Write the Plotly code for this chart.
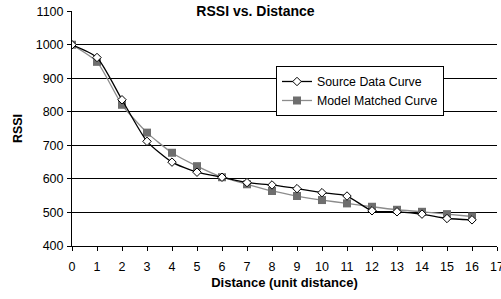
import plotly.graph_objects as go

distance = list(range(0, 17))
source_rssi = [1000, 962, 836, 712, 650, 620, 605, 589, 582, 571, 559, 549, 505, 502, 495, 482, 478]
model_rssi = [1000, 949, 821, 738, 678, 638, 605, 584, 564, 549, 537, 527, 517, 508, 502, 495, 488]
y_ticks = [400, 500, 600, 700, 800, 900, 1000, 1100]
x_ticks = list(range(0, 18))

fig = go.Figure()
fig.add_trace(go.Scatter(
    x=distance, y=model_rssi, name="Model Matched Curve", mode="lines+markers",
    line=dict(color="#8c8c8c", width=1.3, shape="spline", smoothing=0.6),
    marker=dict(symbol="square", size=8, color="#6e6e6e", line=dict(color="#6e6e6e", width=0)),
))
fig.add_trace(go.Scatter(
    x=distance, y=source_rssi, name="Source Data Curve", mode="lines+markers",
    line=dict(color="black", width=1.3, shape="spline", smoothing=0.6),
    marker=dict(symbol="diamond", size=6.5, color="white", line=dict(color="black", width=1)),
))

font = "Liberation Sans, Arial, sans-serif"
fig.update_layout(
    width=501, height=299,
    margin=dict(l=72, r=4, t=11, b=53),
    paper_bgcolor="white", plot_bgcolor="white",
    font=dict(family=font, size=12, color="black"),
    title=dict(text="<b>RSSI vs. Distance</b>", x=0.51, xanchor="center", y=0.962, yanchor="middle",
               font=dict(size=14, family=font, color="black")),
    showlegend=True,
    legend=dict(x=0.48, y=0.766, xanchor="left", yanchor="top", bgcolor="white",
                bordercolor="black", borderwidth=1, font=dict(size=12.3), traceorder="reversed",
                itemwidth=30, tracegroupgap=0),
    xaxis=dict(range=[0, 17], tickvals=x_ticks, ticktext=[str(v) for v in x_ticks],
               showgrid=False, zeroline=False, showline=True, linecolor="black", linewidth=1,
               ticks="outside", ticklen=4, tickcolor="black", automargin=False,
               tickfont=dict(size=12.5), ticklabelstandoff=5, ticklabeloverflow="allow",
               title=dict(text="<b>Distance (unit distance)</b>", font=dict(size=13), standoff=4)),
    yaxis=dict(range=[400, 1100.6], tickvals=y_ticks, ticktext=[str(v) for v in y_ticks],
               showgrid=True, gridcolor="black", gridwidth=1, zeroline=False,
               showline=True, linecolor="black", linewidth=1,
               ticks="outside", ticklen=4, tickcolor="black", automargin=False,
               tickfont=dict(size=12.5), ticklabelstandoff=1,
               title=dict(text="<b>RSSI</b>", font=dict(size=12.5), standoff=10)),
)
fig.write_html("out.html", config={"displayModeBar": False},
               post_script="document.body.style.margin='0';")
